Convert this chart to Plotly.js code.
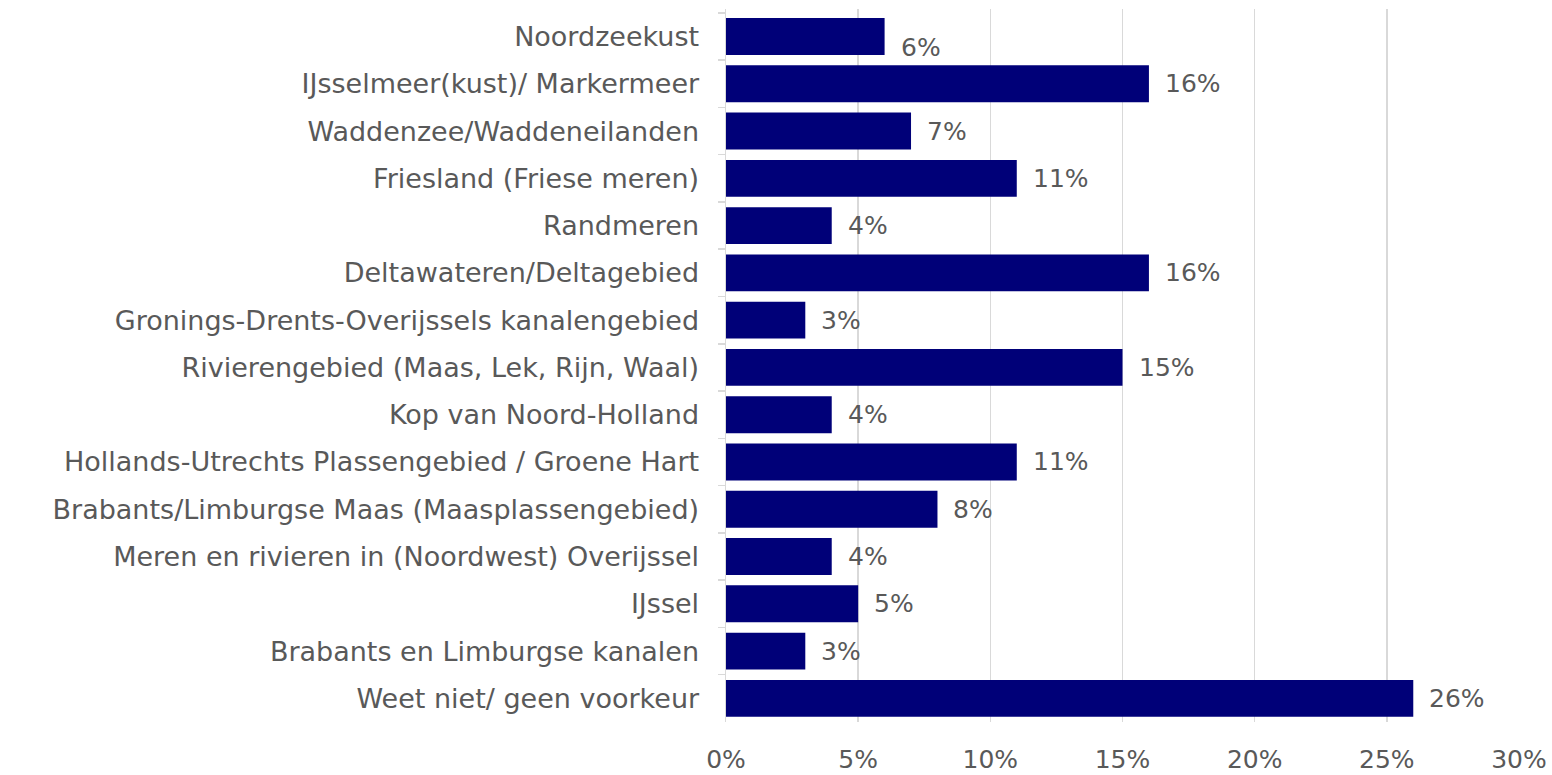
<!DOCTYPE html>
<html>
<head>
<meta charset="utf-8">
<script src="https://cdn.plot.ly/plotly-3.0.1.min.js"></script>
<style>html,body{margin:0;padding:0;background:#fff;}#chart{width:1552px;height:775px;}</style>
</head>
<body>
<div id="chart"></div>
<script>
var categories = [
  "Noordzeekust",
  "IJsselmeer(kust)/ Markermeer",
  "Waddenzee/Waddeneilanden",
  "Friesland (Friese meren)",
  "Randmeren",
  "Deltawateren/Deltagebied",
  "Gronings-Drents-Overijssels kanalengebied",
  "Rivierengebied (Maas, Lek, Rijn, Waal)",
  "Kop van Noord-Holland",
  "Hollands-Utrechts Plassengebied / Groene Hart",
  "Brabants/Limburgse Maas (Maasplassengebied)",
  "Meren en rivieren in (Noordwest) Overijssel",
  "IJssel",
  "Brabants en Limburgse kanalen",
  "Weet niet/ geen voorkeur"
];
var values = [6, 16, 7, 11, 4, 16, 3, 15, 4, 11, 8, 4, 5, 3, 26];
var tickVals = [0, 5, 10, 15, 20, 25, 30];
var tickText = ["0%", "5%", "10%", "15%", "20%", "25%", "30%"];

var FONT = "DejaVu Sans, Lato, sans-serif";
var GRAY = "#595959";

var trace = {
  type: "bar",
  orientation: "h",
  x: values,
  y: categories,
  marker: {color: "#000078"},
  hoverinfo: "none"
};

var annotations = values.map(function (v, i) {
  return {
    x: v, y: categories[i], xref: "x", yref: "y",
    text: v + "%", showarrow: false,
    xanchor: "left", yanchor: "middle",
    xshift: 14, yshift: i === 0 ? -11 : 0,
    font: {family: FONT, size: 25, color: GRAY}
  };
});

var layout = {
  width: 1552, height: 775,
  margin: {l: 726, r: 33, t: 9, b: 53},
  paper_bgcolor: "#fff", plot_bgcolor: "#fff",
  showlegend: false,
  bargap: 0.22,
  xaxis: {
    range: [0, 30], tickvals: tickVals, ticktext: tickText,
    showgrid: true, gridcolor: "#d9d9d9", gridwidth: 1.5,
    zeroline: false, showline: false,
    ticks: "outside", ticklen: 15, tickcolor: "rgba(0,0,0,0)",
    tickfont: {family: FONT, size: 25, color: GRAY},
    automargin: false, fixedrange: true
  },
  yaxis: {
    type: "category", autorange: "reversed",
    showline: true, linecolor: "#d9d9d9", linewidth: 1.5,
    ticks: "outside", ticklen: 7, tickcolor: "#d9d9d9", tickwidth: 1.5,
    tickson: "boundaries", showgrid: false, zeroline: false,
    ticklabelstandoff: 20,
    tickfont: {family: FONT, size: 27, color: GRAY},
    automargin: false, fixedrange: true
  },
  annotations: annotations
};

Plotly.newPlot("chart", [trace], layout, {displayModeBar: false, staticPlot: true});
</script>
</body>
</html>
